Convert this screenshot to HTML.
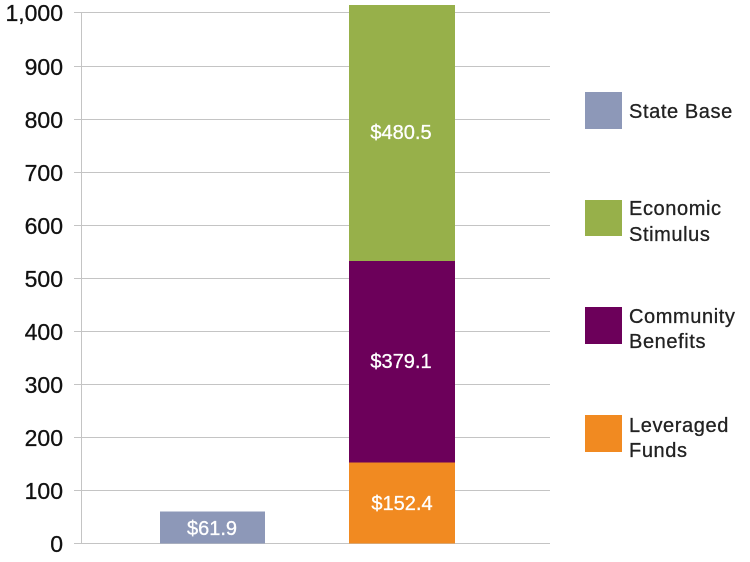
<!DOCTYPE html>
<html><head><style>
body{margin:0;background:#fff;}
svg text{font-family:"Liberation Sans",sans-serif;}
</style></head><body>
<svg width="750" height="557" xmlns="http://www.w3.org/2000/svg">
<g stroke="#c4c4c4" stroke-width="1">
<line x1="74" x2="550" y1="12.5" y2="12.5"/>
<line x1="74" x2="550" y1="66.5" y2="66.5"/>
<line x1="74" x2="550" y1="119.5" y2="119.5"/>
<line x1="74" x2="550" y1="172.5" y2="172.5"/>
<line x1="74" x2="550" y1="225.5" y2="225.5"/>
<line x1="74" x2="550" y1="278.5" y2="278.5"/>
<line x1="74" x2="550" y1="331.5" y2="331.5"/>
<line x1="74" x2="550" y1="384.5" y2="384.5"/>
<line x1="74" x2="550" y1="437.5" y2="437.5"/>
<line x1="74" x2="550" y1="490.5" y2="490.5"/>
<line x1="74" x2="550" y1="543.5" y2="543.5"/>
<line x1="81.5" x2="81.5" y1="12" y2="544"/>
</g>
<g font-size="23" text-anchor="end" fill="#111" stroke="#111" stroke-width="0.3">
<text x="63" y="21">1,000</text>
<text x="63" y="75">900</text>
<text x="63" y="128">800</text>
<text x="63" y="181">700</text>
<text x="63" y="234">600</text>
<text x="63" y="287">500</text>
<text x="63" y="340">400</text>
<text x="63" y="393">300</text>
<text x="63" y="446">200</text>
<text x="63" y="499">100</text>
<text x="63" y="552">0</text>
</g>
<rect x="160" y="511.5" width="105" height="32" fill="#8d98b8"/>
<rect x="349" y="462.5" width="106" height="81" fill="#f18a21"/>
<rect x="349" y="261" width="106" height="201.5" fill="#6c005a"/>
<rect x="349" y="5" width="106" height="256" fill="#97b04a"/>
<g font-size="20" fill="#fff" text-anchor="middle" stroke="#fff" stroke-width="0.3">
<text x="212" y="535">$61.9</text>
<text x="402" y="510">$152.4</text>
<text x="401" y="368">$379.1</text>
<text x="401" y="139">$480.5</text>
</g>
<rect x="585" y="92" width="37" height="37" fill="#8d98b8"/>
<rect x="585" y="200" width="37" height="36" fill="#97b04a"/>
<rect x="585" y="307" width="37" height="37" fill="#6c005a"/>
<rect x="585" y="415" width="37" height="37" fill="#f18a21"/>
<g font-size="20" fill="#222" letter-spacing="0.6" stroke="#222" stroke-width="0.3">
<text x="629" y="118">State Base</text>
<text x="629" y="215">Economic</text><text x="629" y="241">Stimulus</text>
<text x="629" y="323">Community</text><text x="629" y="348">Benefits</text>
<text x="629" y="432">Leveraged</text><text x="629" y="457">Funds</text>
</g>
</svg>
</body></html>
